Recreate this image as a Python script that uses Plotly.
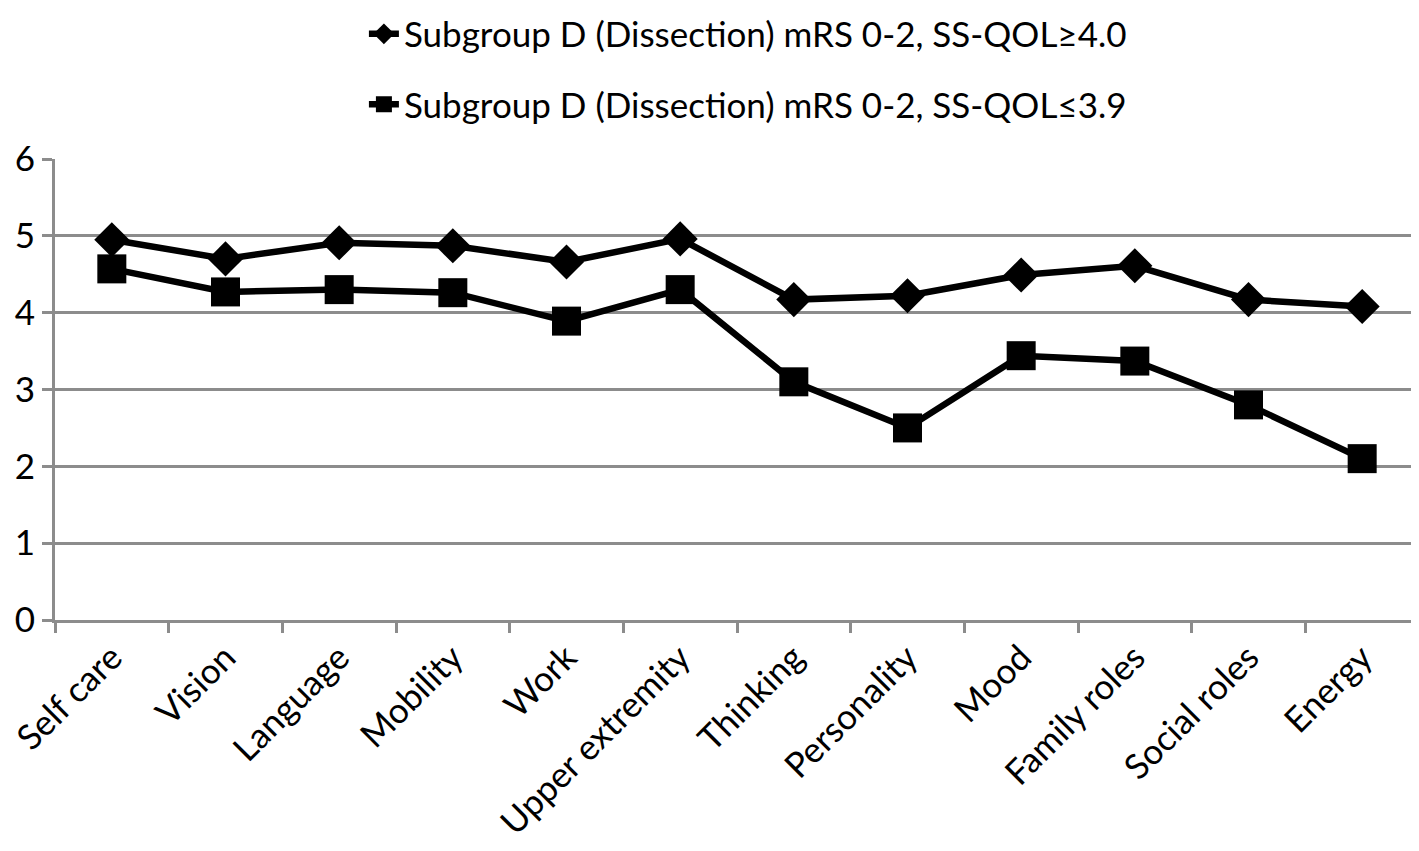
import plotly.graph_objects as go

categories = ["Self care", "Vision", "Language", "Mobility", "Work", "Upper extremity",
              "Thinking", "Personality", "Mood", "Family roles", "Social roles", "Energy"]
high_qol = [4.95, 4.70, 4.91, 4.87, 4.66, 4.96, 4.17, 4.22, 4.49, 4.61, 4.17, 4.08]
low_qol = [4.57, 4.27, 4.30, 4.26, 3.89, 4.30, 3.10, 2.50, 3.44, 3.37, 2.80, 2.10]
name_high = "Subgroup D (Dissection) mRS 0-2, SS-QOL≥4.0"
name_low = "Subgroup D (Dissection) mRS 0-2, SS-QOL≤3.9"

FONT = "Lato"
FS = 35

fig = go.Figure()
fig.add_trace(go.Scatter(x=categories, y=high_qol, mode="lines+markers", name=name_high,
                         legendgroup="a",
                         line=dict(color="black", width=6.5),
                         marker=dict(symbol="diamond", size=27, color="black")))
fig.add_trace(go.Scatter(x=categories, y=low_qol, mode="lines+markers", name=name_low,
                         legendgroup="b",
                         line=dict(color="black", width=6.5),
                         marker=dict(symbol="square", size=29, color="black")))

fig.update_layout(
    width=1419, height=851,
    margin=dict(l=47, r=8, t=151, b=239, autoexpand=False),
    paper_bgcolor="white", plot_bgcolor="white",
    font=dict(family=FONT, size=FS, color="black"),
    showlegend=True,
    legend=dict(orientation="v", x=0.508, xanchor="center", y=1.335, yanchor="top",
                yref="paper", traceorder="grouped", tracegroupgap=22,
                font=dict(family=FONT, size=FS, color="black")),
    xaxis=dict(type="category", showgrid=False, showline=True, linecolor="#8c8c8c", linewidth=3,
               ticks="outside", tickson="boundaries", ticklen=10, tickwidth=3, tickcolor="#8c8c8c",
               tickangle=-45, tickfont=dict(family=FONT, size=FS, color="black"),
               range=[-0.5, 11.5], automargin=False),
    yaxis=dict(range=[0, 6], dtick=1, showgrid=True, gridcolor="#8c8c8c", gridwidth=3,
               showline=True, linecolor="#8c8c8c", linewidth=3, ticks="outside",
               ticklen=10, tickwidth=3, tickcolor="#8c8c8c", zeroline=False, automargin=False,
               tickfont=dict(family=FONT, size=FS, color="black")),
)

fig.write_html("out.html")
